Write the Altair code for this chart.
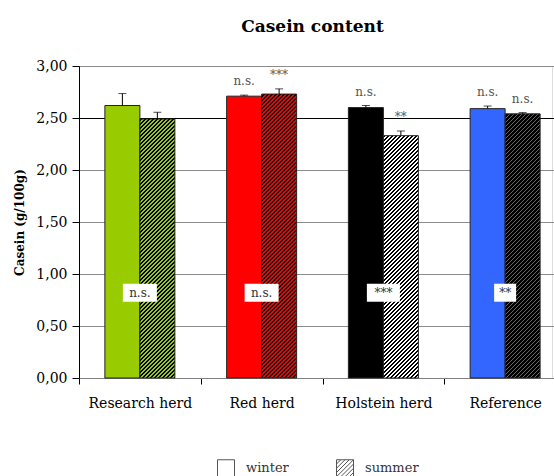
import math
import altair as alt
import pandas as pd

# Casein content (g/100g) per herd, winter vs summer
categories = ["Research herd", "Red herd", "Holstein herd", "Reference"]
winter = [2.62, 2.71, 2.60, 2.59]
summer = [2.49, 2.73, 2.33, 2.54]
winter_err = [0.115, 0.01, 0.02, 0.025]
summer_err = [0.065, 0.05, 0.045, 0.012]
# significance marks: above each bar, and between seasons
winter_sig = ["", "n.s.", "n.s.", "n.s."]
summer_sig = ["", "***", "**", "n.s."]
season_sig = ["n.s.", "n.s.", "***", "**"]

herd_colors = ["#99CC00", "#FF0000", "#000000", "#3366FF"]
summer_light = ["#99CC00", "#FF0000", "#FFFFFF", "#3366FF"]

SERIF = "DejaVu Serif"
PLOT_W, PLOT_H = 473, 312
BAND_RANGE = 487          # four equal category bands; the last one runs past the page edge
BAR_W = 35
PX_PER_UNIT = PLOT_H / 3.0
HATCH_PERIOD = 4.0        # px, measured horizontally
HATCH_LIGHT = 0.45        # share of each period in the bar colour
SEG_PX = 35               # hatched bars are painted in short pieces

rows = []
for i, cat in enumerate(categories):
    rows.append(dict(category=cat, season="winter", value=winter[i], err=winter_err[i], sig=winter_sig[i]))
    rows.append(dict(category=cat, season="summer", value=summer[i], err=summer_err[i], sig=summer_sig[i]))
df = pd.DataFrame(rows)
df["top"] = df["value"] + df["err"]

box_df = pd.DataFrame({"category": categories, "label": season_sig})
BOX_MID = 0.82
BOX_HALF = 9 / PX_PER_UNIT
box_df["mid"] = BOX_MID
box_df["lo"] = BOX_MID - BOX_HALF
box_df["hi"] = BOX_MID + BOX_HALF
box_width = {"n.s.": 34, "***": 33, "**": 22}

x_scale = alt.Scale(domain=categories, range=[0, BAND_RANGE], paddingInner=0, paddingOuter=0)
xo_scale = alt.Scale(domain=["winter", "summer"], paddingOuter=0.74, paddingInner=0)
y_scale = alt.Scale(domain=[0, 3])

x_axis = alt.Axis(
    title=None, labelAngle=0, tickBand="extent", domainColor="#808080",
    tickColor="#000000", tickSize=6, labelPadding=12, labelFont=SERIF,
    labelFontSize=14, labelColor="#000000", grid=False,
)
y_axis = alt.Axis(
    title="Casein (g/100g)", values=[0, 0.5, 1, 1.5, 2, 2.5, 3],
    labelExpr="replace(format(datum.value, '.2f'), '.', ',')",
    domainColor="#000000", tickColor="#000000", tickSize=7, labelPadding=5,
    labelFont=SERIF, labelFontSize=14, labelColor="#000000",
    titleFont=SERIF, titleFontSize=12, titleFontWeight="bold", titleColor="#000000",
    titlePadding=9,
    grid=True, gridWidth=1,
    gridColor={"condition": {"test": "datum.value === 2.5", "value": "#000000"}, "value": "#8c8c8c"},
)


def xenc():
    return alt.X("category:N", scale=x_scale, sort=categories, axis=x_axis)


def xoenc():
    return alt.XOffset("season:N", scale=xo_scale, sort=["winter", "summer"])


def yenc(field):
    return alt.Y(f"{field}:Q", scale=y_scale, axis=y_axis)


def hatch(color, y0, y1):
    """'/' stripes for the piece of a bar between y0 and y1 (px above the baseline).

    The stripe phase depends on the absolute position, so neighbouring pieces join up.
    """
    w, hs = BAR_W, y1 - y0
    span = w + hs
    k = span / (w * w + hs * hs)

    def phase(t):
        return (t * span - y1) / HATCH_PERIOD

    def colour_at(ph):
        return color if (ph - math.floor(ph)) < HATCH_LIGHT else "#000000"

    bounds = []
    p0, p1 = phase(0.0), phase(1.0)
    for n in range(math.floor(p0) - 1, math.ceil(p1) + 2):
        for edge in (n, n + HATCH_LIGHT):
            t = (edge * HATCH_PERIOD + y1) / span
            if 0 < t < 1:
                bounds.append(t)
    bounds.sort()
    stops = [alt.GradientStop(offset=0, color=colour_at(p0))]
    for t in bounds:
        before = colour_at(phase(t) - 1e-6)
        after = colour_at(phase(t) + 1e-6)
        stops.append(alt.GradientStop(offset=t, color=before))
        stops.append(alt.GradientStop(offset=t, color=after))
    stops.append(alt.GradientStop(offset=1, color=colour_at(p1)))
    return alt.LinearGradient(gradient="linear", x1=0, y1=0, x2=w * k, y2=hs * k, stops=stops)


base = alt.Chart(df)

winter_bars = base.transform_filter("datum.season === 'winter'").mark_bar(
    stroke="#222222", strokeWidth=1
).encode(
    x=xenc(), xOffset=xoenc(), y=yenc("value"),
    color=alt.Color("category:N", scale=alt.Scale(domain=categories, range=herd_colors), legend=None),
)

# hatched summer bars, built from stacked pieces that each carry their own stripe gradient
summer_layers = []
for i, cat in enumerate(categories):
    h = summer[i] * PX_PER_UNIT
    n_seg = math.ceil(h / SEG_PX)
    for s in range(n_seg):
        y0 = s * SEG_PX
        y1 = min(h, (s + 1) * SEG_PX + 1)
        piece = pd.DataFrame({
            "category": [cat], "season": ["summer"],
            "lo": [y0 / PX_PER_UNIT], "hi": [y1 / PX_PER_UNIT],
        })
        summer_layers.append(
            alt.Chart(piece).mark_bar(fill=hatch(summer_light[i], y0, y1), strokeWidth=0).encode(
                x=xenc(), xOffset=xoenc(), y=yenc("lo"), y2="hi:Q",
            )
        )

summer_outline = base.transform_filter("datum.season === 'summer'").mark_bar(
    fill=None, fillOpacity=0, stroke="#222222", strokeWidth=1
).encode(x=xenc(), xOffset=xoenc(), y=yenc("value"))

err_rule = base.mark_rule(color="#000000", strokeWidth=1).encode(
    x=xenc(), xOffset=xoenc(), y=yenc("value"), y2="top:Q",
)
err_cap = base.mark_tick(color="#000000", size=8, thickness=1).encode(
    x=xenc(), xOffset=xoenc(), y=yenc("top"),
)
sig_text = base.transform_filter("datum.sig !== ''").mark_text(
    font=SERIF, fontSize=12, color="#555555", baseline="middle", dy=-14,
).encode(
    x=xenc(), xOffset=xoenc(), y=yenc("top"), text="sig:N",
)

box_layers = []
for lab, w in box_width.items():
    box_layers.append(
        alt.Chart(box_df).transform_filter(f"datum.label === '{lab}'").mark_bar(
            width=w, fill="#FFFFFF", strokeWidth=0
        ).encode(x=xenc(), y=yenc("lo"), y2="hi:Q")
    )
box_text = alt.Chart(box_df).mark_text(
    font=SERIF, fontSize=12, color="#333333", baseline="middle",
).encode(x=xenc(), y=yenc("mid"), text="label:N")

hatched_square = (
    "M-1,-1H1V1H-1Z "
    "M-1,-0.5L-0.5,-1 M-1,0L0,-1 M-1,0.5L0.5,-1 M-1,1L1,-1 "
    "M-0.5,1L1,-0.5 M0,1L1,0 M0.5,1L1,0.5"
)
legend_layer = base.mark_point(opacity=0).encode(
    x=xenc(), xOffset=xoenc(), y=yenc("value"),
    shape=alt.Shape(
        "season:N",
        scale=alt.Scale(domain=["winter", "summer"], range=["M-1,-1H1V1H-1Z", hatched_square]),
        legend=alt.Legend(
            title=None, orient="none", legendX=138, legendY=393, direction="horizontal",
            symbolSize=289, symbolFillColor="#FFFFFF", symbolStrokeColor="#555555",
            symbolStrokeWidth=1, symbolOpacity=1, labelFont=SERIF, labelFontSize=13,
            labelColor="#333333", labelOffset=11, columnPadding=45,
        ),
    ),
)

chart = alt.layer(
    winter_bars, *summer_layers, summer_outline, err_rule, err_cap, sig_text,
    *box_layers, box_text, legend_layer,
).properties(
    width=PLOT_W,
    height=PLOT_H,
    title=alt.TitleParams(
        "Casein content", font=SERIF, fontSize=17, fontWeight="bold",
        color="#000000", anchor="middle", offset=23, dx=-3,
    ),
    autosize=alt.AutoSizeParams(type="none"),
    padding={"left": 79, "top": 66, "right": 2, "bottom": 98},
).configure_view(stroke=None).configure(background="#FFFFFF")

chart.save("out.html", embed_options={"renderer": "svg", "actions": False})
